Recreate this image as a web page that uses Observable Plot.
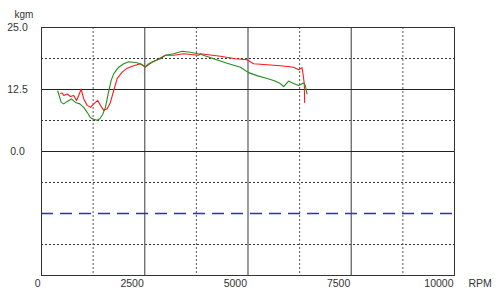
<!DOCTYPE html>
<html>
<head>
<meta charset="utf-8">
<script src="https://cdn.jsdelivr.net/npm/d3@7"></script>
<script src="https://cdn.jsdelivr.net/npm/@observablehq/plot@0.6"></script>
<style>
  html, body { margin: 0; padding: 0; background: #fff; }
  #chart { width: 500px; height: 300px; }
</style>
</head>
<body>
<div id="chart"></div>
<script>
// Green series (RPM, kgm)
const greenRpm = [394, 477, 540, 622, 726, 823, 927, 1023, 1106, 1186, 1265, 1348, 1411, 1483, 1548, 1614, 1686, 1749, 1870, 1991, 2112, 2315, 2436, 2516, 2596, 2717, 2879, 3000, 3201, 3404, 3605, 3847, 4169, 4493, 4815, 5016, 5219, 5461, 5621, 5783, 5862, 5983, 6104, 6225, 6346, 6388, 6429];
const greenKgm = [12.2, 9.9, 9.6, 10.1, 10.6, 9.9, 9.6, 8.9, 7.9, 6.8, 6.5, 6.3, 6.6, 7.5, 8.9, 11.6, 14.3, 15.7, 17.0, 17.7, 18.1, 17.9, 17.5, 17.1, 17.7, 18.2, 18.7, 19.4, 19.7, 20.2, 20.0, 19.6, 18.7, 17.8, 17.0, 15.9, 15.3, 14.7, 14.3, 13.7, 13.1, 14.2, 13.7, 13.3, 13.8, 13.3, 11.6];
// Red series (RPM, kgm)
const redRpm = [460, 501, 540, 622, 702, 781, 847, 902, 960, 1023, 1106, 1186, 1265, 1362, 1428, 1507, 1590, 1669, 1749, 1832, 1953, 2073, 2233, 2395, 2516, 2637, 2799, 3000, 3201, 3443, 3806, 3847, 4331, 4694, 4977, 5137, 5461, 5783, 6104, 6225, 6307, 6331, 6363, 6371];
const redKgm = [11.7, 11.8, 11.3, 11.6, 11.1, 11.3, 10.3, 11.3, 12.6, 10.6, 9.3, 8.9, 9.6, 10.3, 9.3, 8.3, 8.6, 9.9, 12.3, 14.7, 16.0, 16.8, 17.3, 17.7, 17.0, 17.8, 18.5, 19.4, 19.4, 19.7, 19.4, 19.7, 19.2, 18.7, 18.5, 17.7, 17.5, 17.3, 17.0, 16.5, 16.9, 15.7, 13.7, 9.9];
// Axis ticks
const xTicks = [0, 2500, 5000, 7500, 10000];
const yTicks = [25, 12.5, 0];
const xGridSolid = [2500, 5000, 7500];
const xGridDotted = [1250, 3750, 6250, 8750];
const yGridSolid = [12.5, 0];
const yGridDotted = [18.75, 6.25, -6.25, -18.75];
const blueLevel = [-12.5];

const green = greenRpm.map((r, i) => ({rpm: r, kgm: greenKgm[i]}));
const red = redRpm.map((r, i) => ({rpm: r, kgm: redKgm[i]}));

const chart = Plot.plot({
  width: 500,
  height: 300,
  marginLeft: 41,
  marginRight: 46,
  marginTop: 27,
  marginBottom: 25,
  style: {fontFamily: "'Liberation Sans', sans-serif", fontSize: "10.5px", color: "#333", background: "#fff"},
  x: {domain: [0, 10000]},
  y: {domain: [-25, 25]},
  marks: [
    Plot.ruleX(xGridDotted, {stroke: "#555", strokeDasharray: "2,2"}),
    Plot.ruleY(yGridDotted, {stroke: "#333", strokeDasharray: "2,2"}),
    Plot.ruleX(xGridSolid, {stroke: "#666", strokeWidth: 1.3}),
    Plot.ruleY(yGridSolid, {stroke: "#222"}),
    Plot.ruleY(blueLevel, {y: d => d, stroke: "#2b2bd8", strokeWidth: 1.6, strokeDasharray: "12,7"}),
    Plot.frame({stroke: "#333"}),
    Plot.line(red, {x: "rpm", y: "kgm", stroke: "#ff1a1a", strokeWidth: 1.1}),
    Plot.line(green, {x: "rpm", y: "kgm", stroke: "#1f8f1f", strokeWidth: 1.1}),
    Plot.axisX({ticks: xTicks, tickSize: 0, tickPadding: 4, textAnchor: "end", dx: -1, tickFormat: d => String(d), label: null}),
    Plot.axisY({ticks: yTicks, tickSize: 0, tickPadding: 24, textAnchor: "middle", dy: 0, tickFormat: d => d.toFixed(1), label: null}),
    Plot.text(["kgm"], {frameAnchor: "top-left", text: d => d, textAnchor: "start", lineAnchor: "middle", fontSize: 10, dx: -27, dy: -13}),
    Plot.text(["RPM"], {frameAnchor: "bottom-right", text: d => d, textAnchor: "start", lineAnchor: "middle", dx: 14, dy: 8})
  ]
});
document.getElementById("chart").appendChild(chart);
</script>
</body>
</html>
